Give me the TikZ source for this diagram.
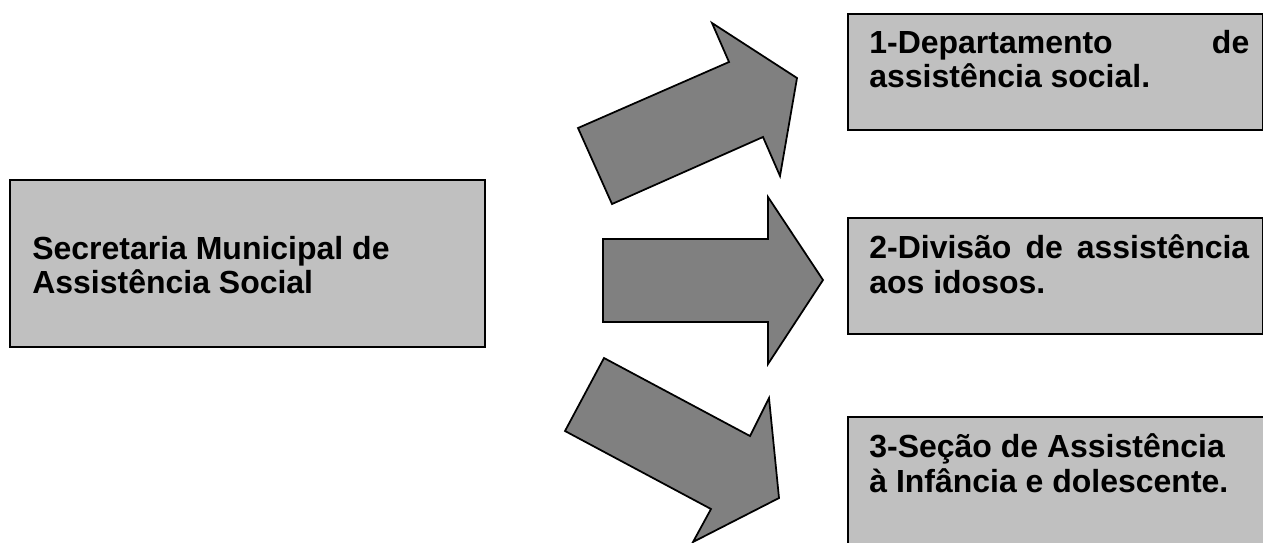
\documentclass[tikz,border=0pt]{standalone}
\usepackage{fontspec}
\setmainfont{Liberation Sans}
\definecolor{boxgray}{HTML}{C0C0C0}
\definecolor{arrowgray}{HTML}{808080}
\begin{document}
\begin{tikzpicture}[x=0.02cm,y=-0.02cm,
  box/.style={draw=black, line width=1pt, fill=boxgray, rectangle, inner sep=0pt, anchor=north west},
  lbl/.style={anchor=base west, inner sep=0pt, font=\fontsize{18.2}{20}\selectfont\bfseries},
  blockarrow/.style={draw=black, line width=1pt, fill=arrowgray, line join=miter}]
\useasboundingbox (0,0) rectangle (1263,542);
% boxes
\node[box, minimum width=9.5cm, minimum height=3.34cm] (main) at (9,179) {};
\node[box, minimum width=8.3cm, minimum height=2.32cm] (b1) at (847,13) {};
\node[box, minimum width=8.3cm, minimum height=2.32cm] (b2) at (847,217) {};
\node[box, minimum width=8.8cm, minimum height=3.2cm] (b3) at (847,416) {};
% texts
\node[lbl] (tmain1) at (32,259) {Secretaria Municipal de};
\node[lbl] (tmain2) at (32,293) {Assistência Social};
\node[lbl] (t1a) at (869,53) {\hbox to 7.6cm{1-Departamento\hfill de}};
\node[lbl] (t1b) at (869,87) {assistência social.};
\node[lbl] (t2a) at (869,258) {\hbox to 7.6cm{2-Divisão\hfill de\hfill assistência}};
\node[lbl] (t2b) at (869,293) {aos idosos.};
\node[lbl] (t3a) at (869,457) {3-Seção de Assistência};
\node[lbl] (t3b) at (869,492) {à Infância e dolescente.};
% block arrows
\draw[blockarrow] (578,128) -- (729,62) -- (712,23) -- (797,78) -- (780,176) -- (763,137) -- (612,204) -- cycle;
\draw[blockarrow] (603,239) -- (768,239) -- (768,197) -- (823,280) -- (768,364) -- (768,322) -- (603,322) -- cycle;
\draw[blockarrow] (604,358) -- (750,436) -- (769,398) -- (779,498) -- (693,542) -- (711,509) -- (565,431) -- cycle;
\end{tikzpicture}
\end{document}
